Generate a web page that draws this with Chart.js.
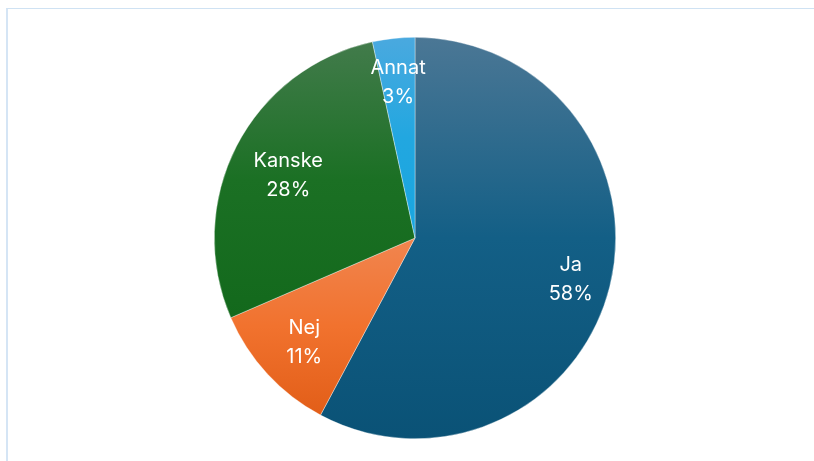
<!DOCTYPE html>
<html>
<head>
<meta charset="utf-8">
<script src="https://cdn.jsdelivr.net/npm/chart.js@4.4.1/dist/chart.umd.min.js"></script>
<style>
  html, body { margin: 0; padding: 0; background: #fff; }
  #wrap { position: relative; width: 814px; height: 461px; overflow: hidden; }
  #frame { position: absolute; left: 6px; top: 8px; right: -2px; bottom: -2px;
           border-left: 2px solid #d5e5f5; border-top: 1px solid #cfe2f3; }
  canvas { position: absolute; left: 0; top: 0; }
</style>
</head>
<body>
<div id="wrap">
  <div id="frame"></div>
  <canvas id="pieChart" width="814" height="461"></canvas>
</div>
<script>
// Dados
const categorias = ['Ja', 'Nej', 'Kanske', 'Annat'];
const valores = [57.8, 10.7, 28.1, 3.4];
// cores do gradiente (topo, meio, base) para cada fatia
const coresTopo = ['#4b7795', '#f1854f', '#427b4b', '#4aa9df'];
const coresMeio = ['#135f86', '#f1722e', '#1b7024', '#22a7e0'];
const coresBase = ['#0a5276', '#e25e18', '#13691c', '#18a6e0'];
// distância relativa do rótulo ao centro
const raioRotulo = [0.80, 0.75, 0.71, 0.79];

// gradiente vertical por fatia, calculado a partir da caixa da fatia
const gradientePlugin = {
  id: 'gradiente',
  beforeDatasetsDraw(chart) {
    const ctx = chart.ctx;
    const meta = chart.getDatasetMeta(0);
    meta.data.forEach((arc, i) => {
      const { x, y, outerRadius, startAngle, endAngle } = arc.getProps(['x', 'y', 'outerRadius', 'startAngle', 'endAngle'], true);
      const ys = [y, y + Math.sin(startAngle) * outerRadius, y + Math.sin(endAngle) * outerRadius];
      const norm = a => ((a % (2 * Math.PI)) + 2 * Math.PI) % (2 * Math.PI);
      const s = norm(startAngle), span = endAngle - startAngle;
      [Math.PI / 2, 3 * Math.PI / 2].forEach(a => {
        if (norm(a - s) <= span) ys.push(y + Math.sin(a) * outerRadius);
      });
      const g = ctx.createLinearGradient(0, Math.min(...ys), 0, Math.max(...ys));
      g.addColorStop(0, coresTopo[i]);
      g.addColorStop(0.5, coresMeio[i]);
      g.addColorStop(1, coresBase[i]);
      arc.options.backgroundColor = g;
    });
  },
  afterDatasetsDraw(chart) {
    const ctx = chart.ctx;
    const meta = chart.getDatasetMeta(0);
    const total = valores.reduce((a, b) => a + b, 0);
    ctx.save();
    ctx.fillStyle = '#ffffff';
    ctx.font = '20px Inter, "Noto Sans", sans-serif';
    ctx.textAlign = 'center';
    ctx.textBaseline = 'middle';
    meta.data.forEach((arc, i) => {
      const { x, y, outerRadius, startAngle, endAngle } = arc.getProps(['x', 'y', 'outerRadius', 'startAngle', 'endAngle'], true);
      const mid = (startAngle + endAngle) / 2;
      const r = outerRadius * raioRotulo[i];
      const lx = x + Math.cos(mid) * r;
      const ly = y + Math.sin(mid) * r;
      const pct = Math.round(valores[i] / total * 100) + '%';
      ctx.fillText(categorias[i], lx, ly - 12);
      ctx.fillText(pct, lx, ly + 17);
    });
    ctx.restore();
  }
};

const ctxPie = document.getElementById('pieChart').getContext('2d');
const pieChart = new Chart(ctxPie, {
  type: 'pie',
  data: {
    labels: categorias,
    datasets: [{
      data: valores,
      backgroundColor: coresBase,
      borderColor: 'rgba(255,255,255,0.6)',
      borderWidth: 0.6
    }]
  },
  options: {
    responsive: false,
    animation: false,
    layout: { padding: { top: 37, bottom: 22, left: 16, right: 0 } },
    plugins: {
      legend: { display: false },
      tooltip: { enabled: false }
    }
  },
  plugins: [gradientePlugin]
});
</script>
</body>
</html>
